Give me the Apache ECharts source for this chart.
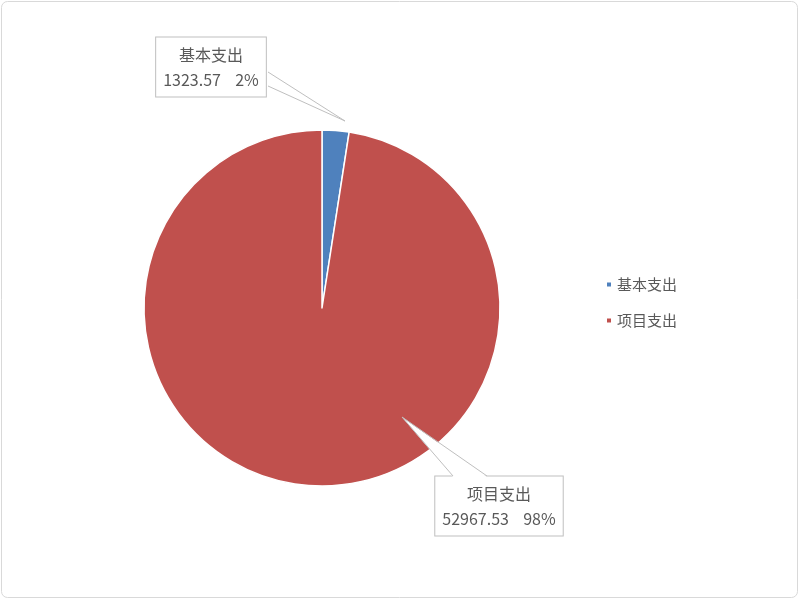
<!DOCTYPE html>
<html><head><meta charset="utf-8">
<script src="https://cdn.jsdelivr.net/npm/echarts@6/dist/echarts.min.js"></script>
<style>html,body{margin:0;padding:0;background:#fff}#c{width:800px;height:600px}</style>
</head><body><div id="c"></div>
<script>
const categories = ['基本支出', '项目支出'];
const values = [1323.57, 52967.53];
const colors = ['#4F81BD', '#C0504D'];
const total = values.reduce((a, b) => a + b, 0);

const chart = echarts.init(document.getElementById('c'), null, {renderer: 'canvas'});
const labelPos = [[211, 67], [499, 506]];
// callout wedges (annotation decoration): [base1, tip, base2]
const wedges = [
  [[268, 72], [345, 121], [268, 86]],
  [[453, 476], [402, 417], [487, 476]]
];
const wedgeFill = [
  [[267, 72], [345, 121], [267, 86]],
  [[453, 477], [402, 417], [487, 477]]
];
const graphics = [{
  type: 'rect', shape: {x: 1.5, y: 1.5, width: 796, height: 596, r: 6},
  style: {fill: 'none', stroke: '#d9d9d9', lineWidth: 1}, silent: true
}];
wedges.forEach((w, i) => {
  graphics.push({type: 'polygon', z: 100, silent: true, shape: {points: wedgeFill[i]},
    style: {fill: '#fff', stroke: null}});
  graphics.push({type: 'polyline', z: 101, silent: true, shape: {points: w},
    style: {fill: null, stroke: '#bfbfbf', lineWidth: 1}});
});
chart.setOption({
  animation: false,
  backgroundColor: '#fff',
  graphic: graphics,
  legend: {
    orient: 'vertical', left: 600, top: 272, itemGap: 21,
    icon: 'rect', itemWidth: 6, itemHeight: 6,
    textStyle: {fontSize: 15, color: '#595959', fontFamily: 'Noto Sans CJK SC'},
    data: categories
  },
  series: [{
    type: 'pie',
    center: [322, 308],
    radius: 178,
    startAngle: 90,
    clockwise: true,
    itemStyle: {borderColor: '#fff', borderWidth: 1.5},
    data: categories.map((n, i) => ({name: n, value: values[i], itemStyle: {color: colors[i]}})),
    label: {
      show: true,
      formatter: p => p.name + '\n' + p.value.toFixed(2) + '    ' + Math.round(p.value / total * 100) + '%',
      fontSize: 16, lineHeight: 25, color: '#595959', fontFamily: 'Noto Sans CJK SC',
      align: 'center',
      backgroundColor: '#fff', borderColor: '#bfbfbf', borderWidth: 1,
      padding: [5, 7, 4, 7]
    },
    labelLine: {show: false},
    labelLayout: function (params) {
      const i = params.dataIndex;
      return {x: labelPos[i][0], y: labelPos[i][1], align: 'center', verticalAlign: 'middle'};
    }
  }]
});
</script></body></html>
